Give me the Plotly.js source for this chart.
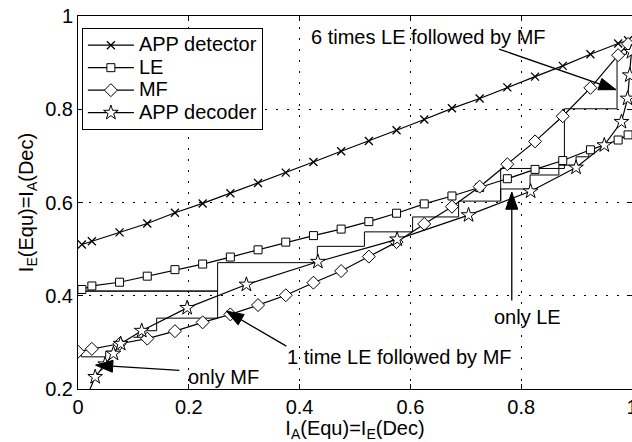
<!DOCTYPE html>
<html>
<head>
<meta charset="utf-8">
<script src="https://cdn.plot.ly/plotly-3.0.1.min.js"></script>
<style>html,body{margin:0;padding:0;background:#fff;}</style>
</head>
<body>
<div id="chart" style="width:632px;height:442px;"></div>
<script>
// ---- data ----
var detX = [0.007, 0.025, 0.075, 0.125, 0.175, 0.225, 0.275, 0.325, 0.375, 0.425, 0.475, 0.525, 0.575, 0.625, 0.675, 0.725, 0.775, 0.825, 0.875, 0.925, 0.975, 0.993];
var detY = [0.510, 0.517, 0.536, 0.555, 0.578, 0.598, 0.620, 0.642, 0.664, 0.687, 0.710, 0.732, 0.755, 0.778, 0.802, 0.823, 0.847, 0.870, 0.893, 0.918, 0.941, 0.948];

var leX = [0.007, 0.025, 0.075, 0.125, 0.175, 0.225, 0.275, 0.325, 0.375, 0.425, 0.475, 0.525, 0.575, 0.625, 0.675, 0.725, 0.775, 0.825, 0.875, 0.925, 0.975, 0.993];
var leY = [0.4135, 0.421, 0.429, 0.442, 0.456, 0.468, 0.483, 0.4985, 0.515, 0.529, 0.543, 0.559, 0.577, 0.597, 0.614, 0.632, 0.651, 0.671, 0.690, 0.713, 0.734, 0.745];

var mfX = [0.0, 0.025, 0.075, 0.125, 0.175, 0.225, 0.275, 0.325, 0.375, 0.425, 0.475, 0.525, 0.575, 0.625, 0.675, 0.725, 0.775, 0.825, 0.875, 0.925, 0.975, 0.993];
var mfY = [0.280, 0.286, 0.297, 0.308, 0.324, 0.343, 0.360, 0.380, 0.401, 0.428, 0.453, 0.484, 0.515, 0.554, 0.591, 0.634, 0.682, 0.731, 0.785, 0.846, 0.916, 0.940];

var decX = [0.013, 0.031, 0.049, 0.064, 0.077, 0.115, 0.197, 0.304, 0.433, 0.576, 0.705, 0.817, 0.899, 0.950, 0.981, 0.992, 0.996, 0.999];
var decY = [0.175, 0.226, 0.253, 0.276, 0.297, 0.325, 0.374, 0.424, 0.473, 0.521, 0.573, 0.624, 0.675, 0.723, 0.773, 0.823, 0.873, 0.923];

// decoding trajectories (staircases)
var trMFX = [0.006, 0.006, 0.050, 0.050, 0.064];
var trMFY = [0.280, 0.269, 0.269, 0.281, 0.281];

var tr1X = [0.0, 0.252, 0.252, 0.142, 0.142, 0.117, 0.117, 0.100];
var tr1Y = [0.410, 0.410, 0.352, 0.352, 0.325, 0.325, 0.311, 0.311];

var trLEX = [0.0, 0.252, 0.252, 0.432, 0.432, 0.517, 0.517, 0.604, 0.604, 0.687, 0.687, 0.763, 0.763, 0.816, 0.816, 0.868, 0.868, 0.899, 0.899, 0.922, 0.922];
var trLEY = [0.410, 0.410, 0.471, 0.471, 0.506, 0.506, 0.537, 0.537, 0.569, 0.569, 0.603, 0.603, 0.629, 0.629, 0.659, 0.659, 0.680, 0.680, 0.698, 0.698, 0.710];

var tr6X = [0.763, 0.763, 0.878, 0.878, 0.973, 0.973, 0.990, 0.990];
var tr6Y = [0.603, 0.673, 0.673, 0.801, 0.801, 0.918, 0.918, 0.945];

var legendNames = ["APP detector", "LE", "MF", "APP decoder"];
var xTicks = [0, 0.2, 0.4, 0.6, 0.8, 1];
var xTickText = ["0", "0.2", "0.4", "0.6", "0.8", "1"];
var yTicks = [0.2, 0.4, 0.6, 0.8, 1];
var yTickText = ["0.2", "0.4", "0.6", "0.8", "1"];

var labels = [
  {text: "6 times LE followed by MF", x: 0.632, y: 0.956, tailX: 0.760, tailY: 0.929, tipX: 0.971, tipY: 0.842},
  {text: "only LE", x: 0.811, y: 0.355, tailX: 0.783, tailY: 0.390, tipX: 0.783, tipY: 0.622},
  {text: "1 time LE followed by MF", x: 0.580, y: 0.268, tailX: 0.376, tailY: 0.292, tipX: 0.268, tipY: 0.367},
  {text: "only MF", x: 0.262, y: 0.226, tailX: 0.183, tailY: 0.240, tipX: 0.032, tipY: 0.251}
];

// ---- plot ----
var FONT = "Liberation Sans, Arial, Helvetica, sans-serif";
var W = 632, H = 442, ML = 78, MR = 0, MT = 16, MB = 53;
var XR = [0, 1], YR = [0.2, 1];
var pxPerX = (W - ML - MR) / (XR[1] - XR[0]);
var pxPerY = (H - MT - MB) / (YR[1] - YR[0]);

function curve(x, y, name, symbol, size, fill) {
  return {
    x: x, y: y, name: "<span style='font-size:20px'>" + name + "</span>",
    type: "scatter", mode: "lines+markers",
    line: {color: "black", width: 1.2},
    marker: {symbol: symbol, size: size, color: fill, line: {color: "black", width: 1}},
    cliponaxis: true
  };
}
function traj(x, y) {
  return {x: x, y: y, type: "scatter", mode: "lines", showlegend: false,
          line: {color: "black", width: 1}, hoverinfo: "skip"};
}

var data = [
  traj(trMFX, trMFY),
  traj(tr1X, tr1Y),
  traj(trLEX, trLEY),
  traj(tr6X, tr6Y),
  curve(detX, detY, legendNames[0], "x-thin", 8, "black"),
  curve(leX, leY, legendNames[1], "square", 8, "white"),
  curve(mfX, mfY, legendNames[2], "diamond", 10, "white"),
  curve(decX, decY, legendNames[3], "star", 11, "white")
];
data[4].marker.line.width = 1.3;

var annotations = [];
var shapes = [];
labels.forEach(function (l) {
  annotations.push({x: l.x, y: l.y, xref: "x", yref: "y", text: l.text, showarrow: false,
                    font: {family: FONT, size: 20, color: "black"}});
  // arrow shaft
  shapes.push({type: "line", xref: "x", yref: "y", x0: l.tailX, y0: l.tailY, x1: l.tipX, y1: l.tipY,
               line: {color: "black", width: 1.3}});
  // arrow head: filled triangle in pixel units anchored at the tip
  var dx = (l.tipX - l.tailX) * pxPerX, dy = (l.tipY - l.tailY) * pxPerY;
  var n = Math.sqrt(dx * dx + dy * dy); dx /= n; dy /= n;
  var L = 17, Wd = 6;
  var bx = -L * dx, by = -L * dy, px = -dy, py = dx;
  var path = "M0,0 L" + (bx + Wd * px).toFixed(2) + "," + (by + Wd * py).toFixed(2) +
             " L" + (bx - Wd * px).toFixed(2) + "," + (by - Wd * py).toFixed(2) + " Z";
  shapes.push({type: "path", xref: "x", yref: "y", xsizemode: "pixel", ysizemode: "pixel",
               xanchor: l.tipX, yanchor: l.tipY, path: path,
               fillcolor: "black", line: {color: "black", width: 1}});
});

var axisCommon = {
  showgrid: true, gridcolor: "black", gridwidth: 1, griddash: "2px,9px",
  zeroline: false, showline: true, linecolor: "black", linewidth: 1, mirror: "ticks",
  ticks: "inside", ticklen: 5, tickcolor: "black", ticklabeloverflow: "allow",
  tickfont: {family: FONT, size: 20, color: "black"}
};

var layout = {
  width: W, height: H,
  margin: {l: ML, r: MR, t: MT, b: MB},
  paper_bgcolor: "white", plot_bgcolor: "white",
  font: {family: FONT, color: "black"},
  xaxis: Object.assign({}, axisCommon, {
    range: XR, tickmode: "array", tickvals: xTicks, ticktext: xTickText,
    title: {text: "I<sub>A</sub>(Equ)=I<sub>E</sub>(Dec)", font: {family: FONT, size: 20}, standoff: 2}
  }),
  yaxis: Object.assign({}, axisCommon, {
    range: YR, tickmode: "array", tickvals: yTicks, ticktext: yTickText,
    title: {text: "I<sub>E</sub>(Equ)=I<sub>A</sub>(Dec)", font: {family: FONT, size: 20}, standoff: 6}
  }),
  showlegend: true,
  legend: {x: 0.007, y: 0.968, xanchor: "left", yanchor: "top",
           bgcolor: "white", bordercolor: "black", borderwidth: 1, itemwidth: 46,
           font: {family: FONT, size: 15, color: "black"}, tracegroupgap: 0},
  annotations: annotations,
  shapes: shapes
};

Plotly.newPlot("chart", data, layout, {staticPlot: true, displayModeBar: false});
</script>
</body>
</html>
